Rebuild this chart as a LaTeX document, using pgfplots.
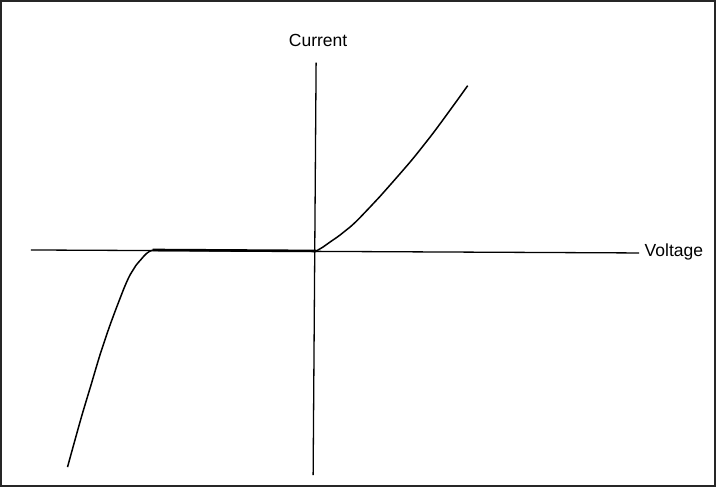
\documentclass[border=0pt]{standalone}
\usepackage{pgfplots}
\pgfplotsset{compat=1.18}
\usepackage{fontspec}
\setmainfont{Liberation Sans}
\begin{document}
\begin{tikzpicture}
\begin{axis}[
  scale only axis, width=714bp, height=485bp,
  xmin=0, xmax=716, ymin=0, ymax=487, y dir=reverse,
  xtick=\empty, ytick=\empty,
  axis line style={black!85, line width=2bp},
  clip=false,
]
% axes
\addplot[black, line width=1.3bp] coordinates {(30,250) (640,253)};
\addplot[black, line width=1.3bp] coordinates {(316,62) (313,476)};
% flat (reverse leakage)
\addplot[black, line width=2.6bp] coordinates {(152,250) (316,251)};
% breakdown region
\addplot[black, line width=1.5bp, smooth, tension=0.8] coordinates {(156,250) (152,250.3) (149,251.3) (146,253.5) (143,256.5) (140,260) (135,266) (130,274) (125,284.5) (120,297) (115,310) (110,323.5) (105,338) (100,353) (95,369.5) (90,386.5) (85,403) (80,420) (73.3,444) (66.7,468)};
% forward region
\addplot[black, line width=1.5bp, smooth, tension=0.8] coordinates {(316,251) (323,247) (330,242) (340,235) (350,227) (360,217.5) (370,207) (380,196.3) (390,185) (400,173.6) (410,162) (420,149.7) (430,137) (440,123.7) (450,110) (459,97.6) (468,85)};
\node[font=\fontsize{17.5bp}{20bp}\selectfont] at (axis cs:318,40) {Current};
\node[font=\fontsize{17.5bp}{20bp}\selectfont, anchor=west] at (axis cs:642,252) {Voltage};
\end{axis}
\end{tikzpicture}
\end{document}
